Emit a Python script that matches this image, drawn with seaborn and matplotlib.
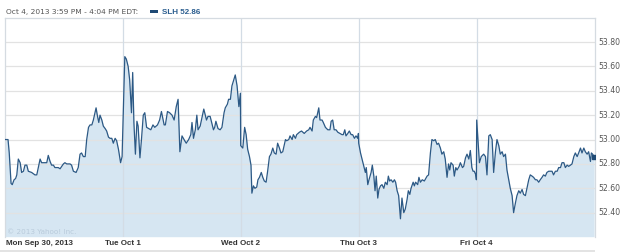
import numpy as np
import pandas as pd
import matplotlib
matplotlib.use("Agg")
import matplotlib.pyplot as plt
import seaborn as sns
from matplotlib.patches import Rectangle

# ---------------- data ----------------
day_labels = ["Mon Sep 30, 2013", "Tue Oct 1", "Wed Oct 2", "Thu Oct 3", "Fri Oct 4"]
y_ticks = [52.40, 52.60, 52.80, 53.00, 53.20, 53.40, 53.60, 53.80]
header_text = "Oct 4, 2013 3:59 PM - 4:04 PM EDT:"
legend_text = "SLH 52.86"
copyright_text = "\u00a9 2013 Yahoo! Inc."

mon_min = [0, 11, 15, 21, 25, 31, 36, 40, 45, 51, 56, 62, 67, 73, 78, 89, 100, 106, 111, 117,
           122, 128, 139, 144, 150, 155, 161, 166, 177, 183, 194, 199, 205, 210, 216, 221, 227,
           236, 243, 249, 254, 260, 266, 271, 277, 282, 288, 293, 302, 306, 311, 315, 321, 326,
           332, 337, 343, 348, 354, 359, 365, 370, 376, 383, 388]
mon_px = [53.00, 53.00, 52.89, 52.64, 52.63, 52.67, 52.68, 52.71, 52.84, 52.81, 52.73, 52.74,
          52.79, 52.79, 52.74, 52.73, 52.71, 52.71, 52.77, 52.84, 52.81, 52.81, 52.81, 52.87,
          52.82, 52.79, 52.79, 52.77, 52.77, 52.76, 52.80, 52.81, 52.80, 52.80, 52.80, 52.79,
          52.74, 52.73, 52.77, 52.88, 52.89, 52.86, 52.86, 53.00, 53.10, 53.12, 53.12, 53.16,
          53.26, 53.20, 53.14, 53.20, 53.16, 53.11, 53.09, 53.07, 53.02, 53.01, 53.01, 52.97,
          53.01, 52.99, 52.92, 52.81, 52.86]

tue_min = [0, 7, 12, 18, 23, 29, 33, 37, 42, 47, 51, 57, 62, 68, 73, 79, 86, 93, 100, 106, 115,
           122, 128, 137, 141, 148, 155, 163, 170, 177, 183, 189, 196, 205, 210, 218, 225, 229,
           234, 240, 245, 249, 256, 262, 268, 273, 277, 282, 289, 293, 300, 304, 308, 315, 322,
           328, 335, 339, 346, 350, 356, 361, 367, 372, 378, 384, 389]
tue_px = [53.05, 53.68, 53.66, 53.60, 53.49, 53.22, 53.55, 53.14, 52.88, 53.15, 53.11, 52.85,
          53.00, 53.20, 53.22, 53.10, 53.09, 53.08, 53.12, 53.10, 53.12, 53.16, 53.23, 53.12,
          53.12, 53.23, 53.22, 53.20, 53.16, 53.27, 53.33, 52.90, 53.03, 52.99, 52.97, 53.00,
          53.04, 53.14, 53.01, 53.08, 53.20, 53.08, 53.11, 53.18, 53.25, 53.20, 53.16, 53.19,
          53.19, 53.15, 53.08, 53.10, 53.15, 53.09, 53.08, 53.10, 53.22, 53.26, 53.29, 53.33,
          53.33, 53.44, 53.49, 53.53, 53.44, 53.27, 53.38]

wed_min = [0, 7, 13, 18, 23, 29, 34, 37, 42, 47, 53, 57, 62, 68, 73, 78, 84, 89, 95, 100, 106,
           111, 117, 122, 128, 133, 139, 148, 152, 159, 163, 170, 174, 181, 185, 194, 201, 210,
           218, 225, 229, 236, 240, 247, 251, 258, 262, 269, 273, 280, 288, 295, 299, 304, 309,
           315, 321, 328, 335, 339, 344, 348, 354, 359, 365, 370, 376, 381, 387, 389]
wed_px = [52.95, 52.93, 53.10, 53.04, 52.92, 52.86, 52.79, 52.56, 52.62, 52.60, 52.61, 52.67,
          52.69, 52.73, 52.69, 52.66, 52.65, 52.74, 52.86, 52.88, 52.93, 52.89, 52.88, 52.97,
          52.93, 52.89, 52.90, 53.00, 52.99, 53.00, 53.03, 53.00, 53.04, 53.01, 53.04, 53.06,
          53.07, 53.05, 53.07, 53.08, 53.10, 53.07, 53.16, 53.19, 53.18, 53.26, 53.16, 53.16,
          53.14, 53.10, 53.08, 53.08, 53.15, 53.16, 53.08, 53.08, 53.06, 53.05, 53.04, 53.04,
          53.08, 53.03, 53.05, 53.07, 53.04, 53.04, 53.01, 53.03, 53.01, 53.05]

thu_min = [0, 6, 11, 17, 22, 25, 30, 34, 41, 45, 50, 54, 58, 63, 67, 72, 77, 83, 88, 94, 98,
           102, 107, 113, 118, 122, 127, 132, 138, 143, 149, 154, 160, 164, 169, 173, 180, 184,
           188, 195, 199, 204, 210, 217, 226, 231, 237, 242, 248, 253, 259, 264, 270, 275, 281,
           286, 292, 297, 301, 305, 312, 316, 321, 325, 332, 336, 343, 347, 353, 358, 364, 369,
           374, 378, 382, 387, 389]
thu_px = [52.97, 52.89, 52.84, 52.78, 52.73, 52.77, 52.63, 52.67, 52.73, 52.79, 52.70, 52.58,
          52.70, 52.52, 52.59, 52.62, 52.63, 52.60, 52.65, 52.63, 52.70, 52.66, 52.67, 52.65,
          52.67, 52.65, 52.58, 52.54, 52.35, 52.52, 52.40, 52.43, 52.51, 52.58, 52.55, 52.60,
          52.65, 52.62, 52.65, 52.63, 52.69, 52.65, 52.67, 52.66, 52.70, 52.71, 52.89, 53.00,
          52.99, 53.00, 52.96, 52.97, 52.93, 52.88, 52.90, 52.84, 52.69, 52.80, 52.75, 52.81,
          52.79, 52.70, 52.77, 52.75, 52.78, 52.81, 52.77, 52.78, 52.85, 52.88, 52.84, 52.91,
          52.77, 52.74, 52.74, 52.71, 52.67]

fri_min = [0, 9, 15, 23, 29, 34, 40, 45, 51, 56, 62, 67, 73, 78, 84, 89, 95, 100, 106, 111,
           117, 122, 128, 133, 139, 144, 150, 155, 161, 166, 172, 177, 183, 188, 194, 199, 205,
           210, 216, 221, 227, 232, 238, 243, 249, 254, 260, 266, 271, 277, 282, 288, 293, 299,
           304, 310, 315, 321, 326, 332, 337, 343, 348, 354, 359, 365, 370, 376, 379, 383, 388]
fri_px = [53.16, 52.81, 52.86, 52.88, 52.86, 52.71, 53.03, 53.04, 53.00, 52.73, 52.90, 53.00,
          52.95, 52.88, 52.90, 52.86, 52.88, 52.75, 52.67, 52.60, 52.54, 52.40, 52.48, 52.54,
          52.58, 52.56, 52.59, 52.55, 52.54, 52.60, 52.67, 52.71, 52.70, 52.69, 52.67, 52.67,
          52.65, 52.67, 52.69, 52.71, 52.70, 52.73, 52.74, 52.74, 52.74, 52.71, 52.74, 52.74,
          52.77, 52.77, 52.81, 52.81, 52.77, 52.79, 52.78, 52.79, 52.80, 52.86, 52.89, 52.86,
          52.89, 52.93, 52.89, 52.93, 52.90, 52.88, 52.90, 52.82, 52.89, 52.88, 52.86]

# ---------------- build frame ----------------
DAY_LEN = 390  # minutes in trading session
frames = []
for i, (mins, pxs) in enumerate([(mon_min, mon_px), (tue_min, tue_px), (wed_min, wed_px),
                                 (thu_min, thu_px), (fri_min, fri_px)]):
    frames.append(pd.DataFrame({"t": np.array(mins) + i * DAY_LEN, "price": pxs}))
df = pd.concat(frames, ignore_index=True)

# ---------------- plot ----------------
sns.set_theme(style="white")
plt.rcParams["font.family"] = ["DejaVu Sans"]

W, H = 625, 252
fig = plt.figure(figsize=(W / 100, H / 100), dpi=100)
fig.patch.set_facecolor("white")

x0, x1 = 4.7, 594.7
ytop, ybot = 18.0, 236.7
ax = fig.add_axes([x0 / W, 1 - ybot / H, (x1 - x0) / W, (ybot - ytop) / H])
ax.set_facecolor("white")

line_col = "#2c5985"
fill_col = "#d6e6f2"
grid_col = "#e2e2e2"
vline_col = "#d3dce5"

ymin, ymax = 52.203, 53.997
ax.set_xlim(0, 5 * DAY_LEN)
ax.set_ylim(ymin, ymax)

ax.fill_between(df["t"], df["price"], ymin, color=fill_col, lw=0, zorder=1)
for yv in y_ticks:
    ax.axhline(yv, color=grid_col, lw=0.9, zorder=2)
for d in range(1, 5):
    ax.axvline(d * DAY_LEN, color=vline_col, lw=0.9, zorder=2)

sns.lineplot(data=df, x="t", y="price", ax=ax, color=line_col, lw=0.9,
             estimator=None, sort=False, zorder=3, legend=False)
ax.plot(df["t"].iloc[-1], df["price"].iloc[-1], marker="s", ms=2.6, color="#1f4a75", zorder=4)

ax.set_xlabel("")
ax.set_ylabel("")
ax.set_xticks([])
ax.set_yticks([])
for side in ["top", "left", "right"]:
    ax.spines[side].set_color("#d5dbe1")
    ax.spines[side].set_linewidth(0.9)
ax.spines["bottom"].set_visible(False)

# y tick labels (right side)
for yv in y_ticks:
    ax.text(1.006, (yv - ymin) / (ymax - ymin), f"{yv:.2f}", transform=ax.transAxes,
            ha="left", va="center", fontsize=5.6, color="#555555")

# x labels
bold_font = ["Liberation Sans", "DejaVu Sans"]
lab_y = 1 - 243.5 / H
fig.text(6 / W, lab_y, day_labels[0], ha="left", va="center", fontsize=5.8,
         fontweight="bold", color="#333333", family=bold_font)
for d in range(1, 5):
    xpix = x0 + d * (x1 - x0) / 5
    fig.text(xpix / W, lab_y, day_labels[d], ha="center", va="center", fontsize=5.8,
             fontweight="bold", color="#333333", family=bold_font)

# bottom light band
fig.add_artist(Rectangle((0, 0), x1 / W, 2.2 / H, transform=fig.transFigure,
                         facecolor="#e3e3e3", edgecolor="none"))

# header
fig.text(6 / W, 1 - 12 / H, header_text, ha="left", va="center", fontsize=5.4, color="#555555")
fig.add_artist(Rectangle((150 / W, 1 - 12.6 / H), 8 / W, 3 / H, transform=fig.transFigure,
                         facecolor="#1f4a75", edgecolor="none"))
fig.text(162 / W, 1 - 12 / H, legend_text, ha="left", va="center", fontsize=5.8,
         fontweight="bold", color="#2a5d8f", family=bold_font)

# copyright
fig.text(7 / W, 1 - 231.5 / H, copyright_text, ha="left", va="center", fontsize=5.2,
         color="#b9cbdb")

fig.savefig("out.png", dpi=100)
